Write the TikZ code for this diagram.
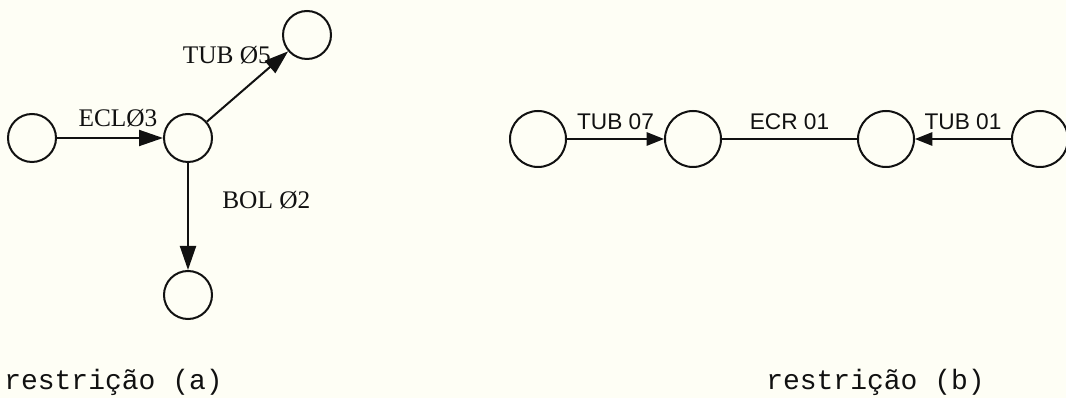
\documentclass[tikz,border=0pt]{standalone}
\usepackage{fontspec}
\usepackage{tikz}
\usetikzlibrary{arrows.meta,positioning}
\newfontfamily\serifrm{Liberation Serif}
\newfontfamily\sanslab{Liberation Sans}
\newfontfamily\monocap{Liberation Mono}
\definecolor{paperbg}{HTML}{FEFEF5}
\definecolor{inkline}{HTML}{111111}

\begin{document}
\begin{tikzpicture}[
    x=0.75pt, y=-0.75pt,
    vertexA/.style={circle, draw=inkline, line width=1.5pt, minimum size=36pt, inner sep=0pt},
    vertexB/.style={circle, draw=inkline, line width=1.5pt, minimum size=42pt, inner sep=0pt},
    arcA/.style={-{Triangle[length=18pt, width=12pt]}, line width=1.5pt, color=inkline},
    arcB/.style={-{Triangle[length=13pt, width=10pt]}, line width=1.3pt, color=inkline},
    plainarc/.style={line width=1.3pt, color=inkline},
    tagA/.style={font=\serifrm\fontsize{19}{22}\selectfont, inner sep=0pt, text=inkline},
    tagB/.style={font=\sanslab\fontsize{17}{20}\selectfont, inner sep=0pt, text=inkline},
    captext/.style={font=\monocap\fontsize{21}{25}\selectfont, inner sep=0pt, anchor=base west, text=inkline}
]
    % --- PAPER ---
    \fill[paperbg] (0,0) rectangle (1066,398);
    \useasboundingbox (0,0) rectangle (1066,398);

    % --- RESTRICTION (a): one vertex with three arcs ---
    \node[vertexA] (a1) at (32,138) {};
    \node[vertexA] (a2) at (188,138) {};
    \node[vertexA] (a3) at (307,35) {};
    \node[vertexA] (a4) at (188,295) {};

    \draw[arcA] (a1) -- (a2)
        node[tagA, midway, above=7pt, xshift=6pt] (ecl3) {ECLØ3};
    \draw[arcA] (a2) -- (a3)
        node[tagA, pos=0.8, anchor=south east] (tub5) {TUB Ø5};
    \draw[arcA] (a2) -- (a4)
        node[tagA, pos=0.35, right=25pt] (bol2) {BOL Ø2};

    % --- RESTRICTION (b): chain of four vertices ---
    \node[vertexB] (b1) at (538,139) {};
    \node[vertexB] (b2) at (693,139) {};
    \node[vertexB] (b3) at (886,139) {};
    \node[vertexB] (b4) at (1040,139) {};

    \draw[arcB] (b1) -- (b2)
        node[tagB, midway, above=6pt] (tub7) {TUB 07};
    \draw[plainarc] (b2) -- (b3)
        node[tagB, midway, above=6pt] (ecr1) {ECR 01};
    \draw[arcB] (b4) -- (b3)
        node[tagB, midway, above=6pt] (tub1) {TUB 01};

    % --- CAPTIONS ---
    \node[captext] (capa) at (4,389) {restrição (a)};
    \node[captext] (capb) at (766,389) {restrição (b)};
\end{tikzpicture}
\end{document}
